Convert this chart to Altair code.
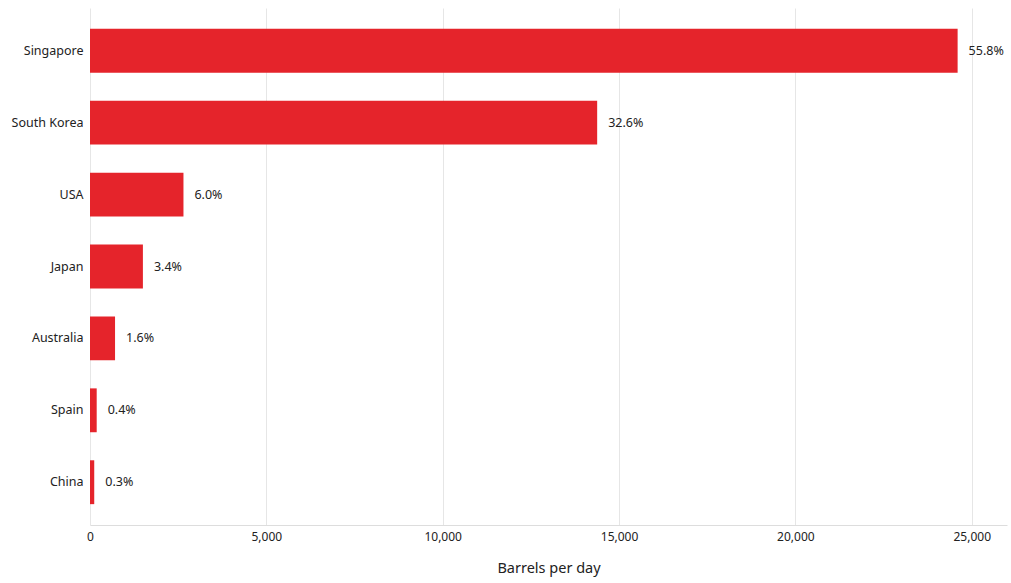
import altair as alt
import pandas as pd

countries = ["Singapore", "South Korea", "USA", "Japan", "Australia", "Spain", "China"]
barrels = [24600, 14380, 2650, 1500, 710, 190, 120]
shares = ["55.8%", "32.6%", "6.0%", "3.4%", "1.6%", "0.4%", "0.3%"]

df = pd.DataFrame({"country": countries, "barrels": barrels, "share": shares})

FONT = "Noto Sans"
TXT = "#222222"

y = alt.Y("country:N", sort=countries, title=None,
          scale=alt.Scale(paddingInner=0.39, paddingOuter=0.29),
          axis=alt.Axis(ticks=False, domain=False, labelPadding=7,
                        labelFontSize=12.5, labelColor=TXT, labelFont=FONT))
x = alt.X("barrels:Q", title="Barrels per day",
          scale=alt.Scale(domain=[0, 26000], nice=False),
          axis=alt.Axis(values=[0, 5000, 10000, 15000, 20000, 25000], format=",.0f",
                        ticks=False, labelPadding=6, labelFontSize=12, labelColor=TXT,
                        labelFont=FONT, titleFont=FONT, titleFontSize=14.5,
                        titleFontWeight="normal", titleColor=TXT, titlePadding=19,
                        grid=True, gridColor="#e6e6e6", domainColor="#dddddd",
                        labelOverlap=False, labelFlush=False))

base = alt.Chart(df).encode(x=x, y=y)
bars = base.mark_bar(color="#e5242b")
labels = base.mark_text(align="left", baseline="middle", dx=11,
                        fontSize=12.5, color=TXT, font=FONT).encode(text="share:N")

chart = (bars + labels).properties(
    width=917, height=517,
    background="white",
    autosize=alt.AutoSizeParams(type="none"),
    padding={"left": 90, "top": 8, "right": 4, "bottom": 58},
).configure_view(strokeWidth=0, stroke="transparent")

chart.save("out.html", embed_options={"renderer": "svg", "actions": False})
